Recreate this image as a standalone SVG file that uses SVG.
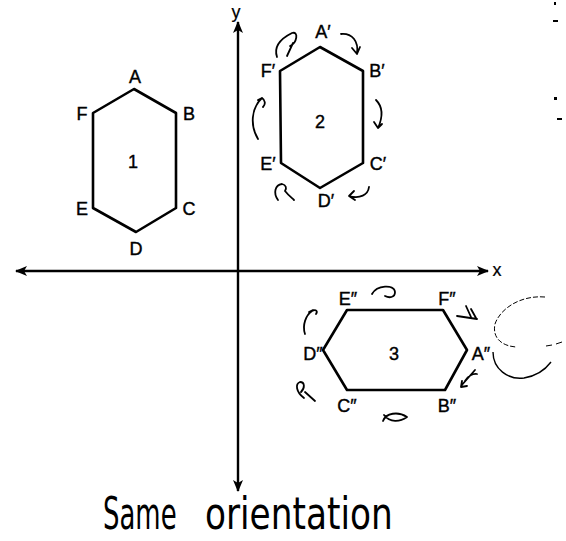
<svg xmlns="http://www.w3.org/2000/svg" width="566" height="541" viewBox="0 0 566 541">
<style>
.hex{fill:none;stroke:#000;stroke-width:2.6;stroke-linejoin:round}
.lbl{font-family:"Liberation Sans",Arial,sans-serif;font-size:18px;fill:#000;stroke:#000;stroke-width:0.4;text-anchor:middle}
.ax{stroke:#000;stroke-width:2.4;fill:none}
.cur{fill:none;stroke:#000;stroke-width:1.8;stroke-linecap:round;stroke-linejoin:round}
.hand{font-family:"DejaVu Sans","Liberation Sans",sans-serif;font-size:44px;fill:#000}
</style>
<defs>
<marker id="ah" viewBox="0 0 12 10" refX="11" refY="5" markerWidth="12" markerHeight="10" markerUnits="userSpaceOnUse" orient="auto-start-reverse">
<path d="M0,0 L12,5 L0,10 L3,5 Z" fill="#000"/>
</marker>
</defs>
<rect width="566" height="541" fill="#fff"/>
<g id="connectors">
<line id="x-axis" class="ax" x1="16" y1="271" x2="488" y2="271" marker-start="url(#ah)" marker-end="url(#ah)"/>
<line id="y-axis" class="ax" x1="238" y1="22" x2="238" y2="491" marker-start="url(#ah)" marker-end="url(#ah)"/>
</g>
<text class="lbl" x="497" y="276" style="stroke-width:0.2">x</text>
<text class="lbl" x="236" y="18" style="stroke-width:0.2">y</text>
<g id="hex1">
<polygon class="hex" points="134,89 176,113 176,208 136,232 93,208 93,113"/>
<text class="lbl" x="135" y="83">A</text>
<text class="lbl" x="189" y="120">B</text>
<text class="lbl" x="189" y="215">C</text>
<text class="lbl" x="136" y="255">D</text>
<text class="lbl" x="82" y="215">E</text>
<text class="lbl" x="82" y="120">F</text>
<text class="lbl" x="133" y="168">1</text>
</g>
<g id="hex2">
<polygon class="hex" points="320,47 363,71 363,163 320,188 281,163 280,71"/>
<text class="lbl" x="323" y="38">A′</text>
<text class="lbl" x="377" y="77">B′</text>
<text class="lbl" x="378" y="170">C′</text>
<text class="lbl" x="326" y="207">D′</text>
<text class="lbl" x="268" y="170">E′</text>
<text class="lbl" x="268" y="77">F′</text>
<text class="lbl" x="320" y="128">2</text>
<path class="cur" d="M277,57 C273,45 284,37 292,33 C299,31 297,43 290,46 M293,43 L287,56"/>
<path class="cur" d="M341,34 C352,33 359,41 357,54 M352,48 L357,54 L360,47"/>
<path class="cur" d="M258,139 C250,126 251,108 262,98 C265,100 266,104 263,107 M258,100 L262,98"/>
<path class="cur" d="M376,100 C384,108 382,119 378,128 M374,122 L378,128 L382,124"/>
<path class="cur" d="M369,187 C368,195 360,199 349,196 M354,191 L349,196 L355,200"/>
<path class="cur" d="M278,200 C273,193 275,185 282,184 C286,185 287,188 285,191 M285,191 C289,196 292,198 294,200"/>
</g>
<g id="hex3">
<polygon class="hex" points="467,350 445,390 347,390 323,350 347,310 443,310"/>
<text class="lbl" x="348" y="305">E″</text>
<text class="lbl" x="447" y="305">F″</text>
<text class="lbl" x="481" y="360">A″</text>
<text class="lbl" x="447" y="412">B″</text>
<text class="lbl" x="347" y="412">C″</text>
<text class="lbl" x="313" y="360">D″</text>
<text class="lbl" x="394" y="360">3</text>
<path class="cur" d="M372,294 C377,285 394,284 395,292 C395,298 389,298 385,296"/>
<path class="cur" d="M457,316 L477,319 M466,306 L471,317 M471,309 L476,318"/>
<path class="cur" d="M305,334 C302,325 306,315 312,311 C316,309 318,311 316,314 M309,312 L313,310"/>
<path class="cur" d="M304,398 C296,392 295,384 300,382 C305,382 305,388 301,392 M305,392 L315,401"/>
<path class="cur" d="M383,421 C386,413 398,411 407,417 C400,422 390,423 384,415"/>
<path class="cur" d="M461,386 L475,370 M465,381 C468,376 473,373 477,374 M462,381 L461,387 L467,386"/>
<path fill="none" stroke="#000" stroke-width="1" stroke-dasharray="5 2" d="M545,297 C520,295 500,309 495,324 C492,338 502,346 516,347"/>
<path fill="none" stroke="#000" stroke-width="1.4" d="M493,352 C493,369 508,380 524,378 C536,376 545,370 551,362"/>
<path fill="none" stroke="#000" stroke-width="1" d="M546,346 L552,345 M556,344 L562,342"/>
</g>
<g id="edge-marks" fill="#000">
<rect x="554" y="2" width="2" height="3"/>
<rect x="553" y="20" width="5" height="2"/>
<rect x="554" y="97" width="3" height="3"/>
<rect x="557" y="118" width="5" height="2"/>
</g>
<g id="note">
<text class="hand" transform="translate(103,529) scale(0.59,1)">Same</text>
<text class="hand" transform="translate(205,529) scale(0.78,1)">orientation</text>
</g>
</svg>
